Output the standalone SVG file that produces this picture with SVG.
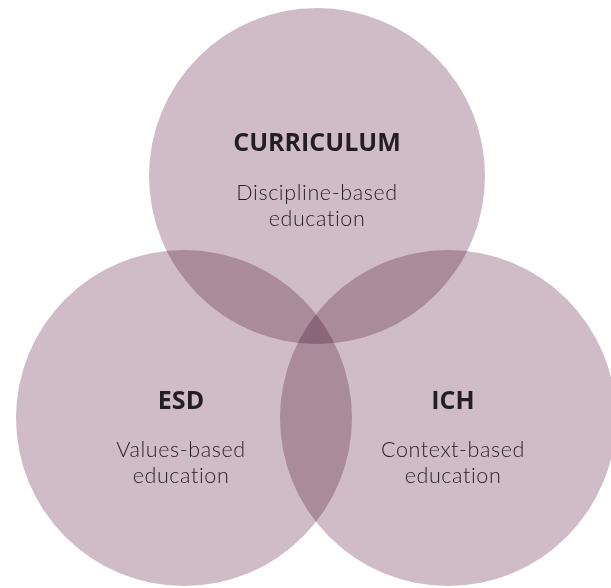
<svg xmlns="http://www.w3.org/2000/svg" width="611" height="588" viewBox="0 0 611 588">
  <style>
    .blob { fill: #d0bcc6; mix-blend-mode: multiply; }
    .title { font-family: "Open Sans", "Noto Sans", "Liberation Sans", sans-serif; font-weight: 700; font-size: 25px; fill: #231f20; text-anchor: middle; }
    .sub { font-family: Lato, "Open Sans", "Liberation Sans", sans-serif; font-weight: 300; font-size: 21.5px; letter-spacing: 0.6px; fill: #231f20; text-anchor: middle; }
  </style>
  <rect width="611" height="588" fill="#ffffff"/>
  <g id="diagram" style="isolation:isolate">
    <g id="node-curriculum">
      <circle class="blob" cx="317" cy="176" r="168"/>
      <text class="title" x="317" y="151">CURRICULUM</text>
      <text class="sub" x="317" y="200">Discipline-based<tspan x="317" dy="26">education</tspan></text>
    </g>
    <g id="node-esd">
      <circle class="blob" cx="184" cy="418" r="168"/>
      <text class="title" x="181" y="409">ESD</text>
      <text class="sub" x="181" y="457">Values-based<tspan x="181" dy="26">education</tspan></text>
    </g>
    <g id="node-ich">
      <circle class="blob" cx="448" cy="418" r="168"/>
      <text class="title" x="453" y="409">ICH</text>
      <text class="sub" x="453" y="457">Context-based<tspan x="453" dy="26">education</tspan></text>
    </g>
  </g>
  <g id="connectors"/>
</svg>
